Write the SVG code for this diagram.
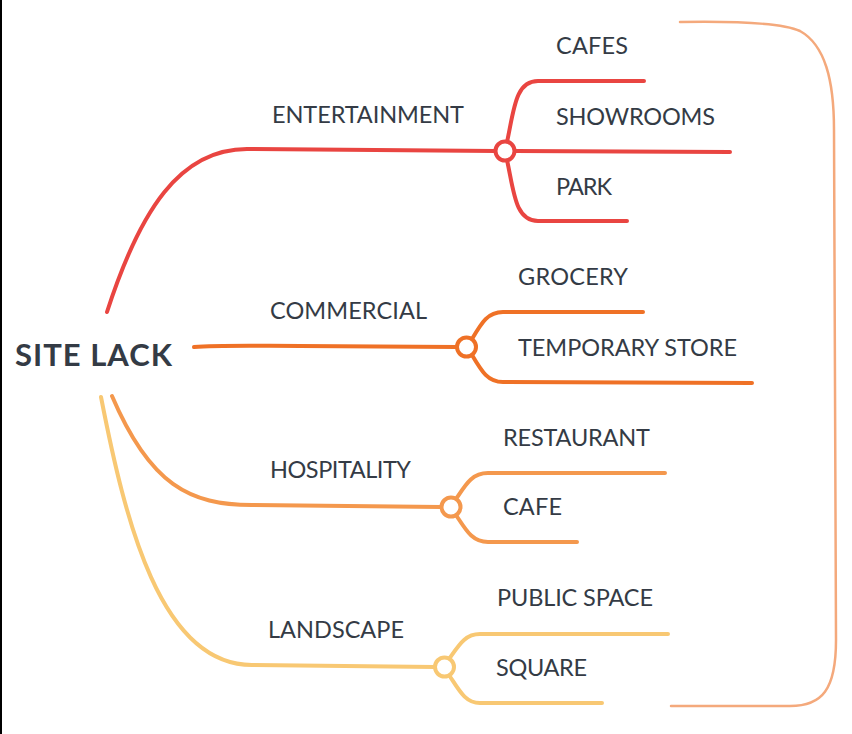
<svg xmlns="http://www.w3.org/2000/svg" width="852" height="734" viewBox="0 0 852 734">
<style>
.t{font-family:"Lato","Liberation Sans",sans-serif;font-size:23.5px;fill:#343b45;}
.root{font-family:"Lato","Liberation Sans",sans-serif;font-size:31px;font-weight:bold;fill:#343b45;}
.ln{fill:none;stroke-width:4;stroke-linecap:round;}
.ent{stroke:#e94541;}
.com{stroke:#ef7126;}
.hos{stroke:#f4984d;}
.lan{stroke:#f8c873;}
.hub{fill:#fff;stroke-width:4;}
</style>
<rect x="0" y="0" width="852" height="734" fill="#fff"/>
<rect x="0" y="0" width="2" height="734" fill="#000"/>
<g id="connectors">
  <path class="ln ent" d="M107,312 C140,210 180,149 247,149 L496,151"/>
  <path class="ln ent" d="M507,142 C514,110 515,81 538,81 L644,81"/>
  <path class="ln ent" d="M515,151 L730,152"/>
  <path class="ln ent" d="M507,160 C514,192 515,221 538,221 L627,221"/>
  <path class="ln com" d="M194,347 C220,345 260,346 300,346 L457,347"/>
  <path class="ln com" d="M472,339 C482,322 488,312 503,312 L643,312"/>
  <path class="ln com" d="M472,355 C482,372 488,382 503,382 L752,383"/>
  <path class="ln hos" d="M112,396 C150,485 190,505 252,505 L441,507"/>
  <path class="ln hos" d="M456,499 C466,484 472,473 488,473 L665,473"/>
  <path class="ln hos" d="M456,515 C466,530 472,542 488,542 L577,542"/>
  <path class="ln lan" d="M101,397 C125,520 160,665 252,665 L435,667"/>
  <path class="ln lan" d="M449,659 C459,645 465,634 480,634 L668,634"/>
  <path class="ln lan" d="M449,675 C459,690 465,703 480,703 L602,703"/>
  <path fill="none" stroke="#f4a97c" stroke-width="2.5" stroke-linecap="round" d="M680,22 C740,21 785,24 800,31 C825,45 834,80 834,130 L836,640 C836,690 822,706 790,706 L671,706"/>
</g>
<g id="root"><text class="root" x="15" y="366" textLength="157">SITE LACK</text></g>
<g id="entertainment">
  <text class="t" x="272" y="123" textLength="192">ENTERTAINMENT</text>
  <circle class="hub ent" cx="505" cy="151" r="9.5"/>
</g>
<g id="cafes"><text class="t" x="556" y="54" textLength="72">CAFES</text></g>
<g id="showrooms"><text class="t" x="556" y="125" textLength="159">SHOWROOMS</text></g>
<g id="park"><text class="t" x="556" y="195" textLength="56">PARK</text></g>
<g id="commercial">
  <text class="t" x="270" y="319" textLength="157">COMMERCIAL</text>
  <circle class="hub com" cx="466.5" cy="347" r="9.5"/>
</g>
<g id="grocery"><text class="t" x="518" y="285" textLength="110">GROCERY</text></g>
<g id="temporary-store"><text class="t" x="518" y="356" textLength="219">TEMPORARY STORE</text></g>
<g id="hospitality">
  <text class="t" x="270" y="478" textLength="141">HOSPITALITY</text>
  <circle class="hub hos" cx="451" cy="507" r="9.5"/>
</g>
<g id="restaurant"><text class="t" x="503" y="446" textLength="147">RESTAURANT</text></g>
<g id="cafe"><text class="t" x="503" y="515" textLength="59">CAFE</text></g>
<g id="landscape">
  <text class="t" x="268" y="638" textLength="136">LANDSCAPE</text>
  <circle class="hub lan" cx="444.5" cy="667" r="9.5"/>
</g>
<g id="public-space"><text class="t" x="497" y="606" textLength="156">PUBLIC SPACE</text></g>
<g id="square"><text class="t" x="496" y="676" textLength="91">SQUARE</text></g>
</svg>
